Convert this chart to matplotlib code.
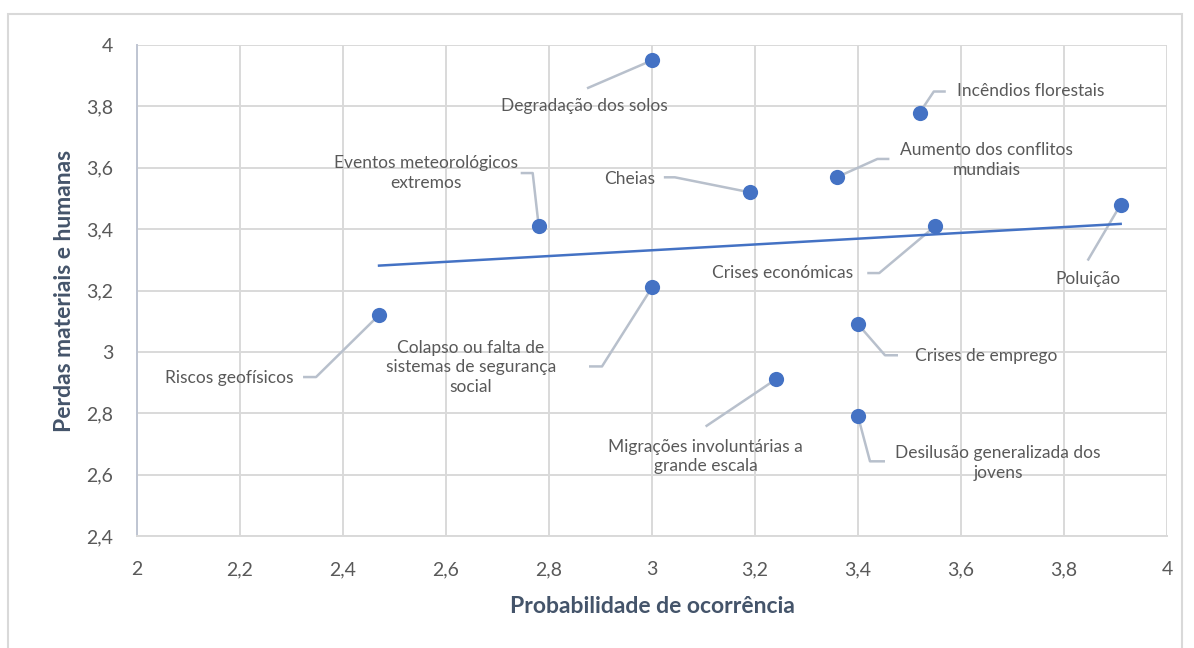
import numpy as np
import matplotlib.pyplot as plt
import matplotlib.transforms as mtransforms
from matplotlib.patches import Rectangle
from matplotlib.ticker import FuncFormatter

plt.rcParams['font.family'] = ['Lato', 'DejaVu Sans']

# riscos: probabilidade de ocorrência / perdas materiais e humanas
riscos = ['Degradação dos solos', 'Incêndios florestais', 'Aumento dos conflitos\nmundiais',
          'Cheias', 'Eventos meteorológicos\nextremos', 'Crises económicas', 'Poluição',
          'Colapso ou falta de\nsistemas de segurança\nsocial', 'Riscos geofísicos',
          'Crises de emprego', 'Migrações involuntárias a\ngrande escala',
          'Desilusão generalizada dos\njovens']
probabilidade = [3.00, 3.52, 3.36, 3.19, 2.78, 3.55, 3.91, 3.00, 2.47, 3.40, 3.24, 3.40]
perdas = [3.95, 3.78, 3.57, 3.52, 3.41, 3.41, 3.48, 3.21, 3.12, 3.09, 2.91, 2.79]

# posição de cada rótulo (pixels a partir do ponto) e vértices da linha de chamada
rotulo_pos = [(-68, -46), (111, 22), (149, 17), (-120, 13), (-113, 53), (-153, -47),
              (-33, -74), (-181, -80), (-150, -63), (128, -32), (-70, -77), (140, -47)]
chamada = [[(-65, -28)],
           [(14, 21), (26, 21)],
           [(40, 18), (52, 18)],
           [(-75, 15), (-86, 15)],
           [(-6, 53), (-18, 53)],
           [(-56, -47), (-68, -47)],
           [(-33, -56)],
           [(-50, -79), (-63, -79)],
           [(-63, -62), (-76, -62)],
           [(27, -31), (40, -31)],
           [(-70, -47)],
           [(12, -45), (27, -45)]]

azul = '#4472C4'
cinza_txt = '#595959'
cinza_grelha = '#D9D9D9'

fig = plt.figure(figsize=(11.94, 6.48), dpi=100)
fig.patches.append(Rectangle((8 / 1194, -0.01), 1174 / 1194, 1 - 14 / 648 + 0.01,
                             transform=fig.transFigure, fill=False,
                             edgecolor='#D9D9D9', lw=1.5))
ax = fig.add_axes([137 / 1194, 1 - 536 / 648, 1030 / 1194, 491 / 648])

ax.set_xlim(2, 4)
ax.set_ylim(2.4, 4)
ax.set_xticks(np.arange(2, 4.01, 0.2))
ax.set_yticks(np.arange(2.4, 4.01, 0.2))
virgula = FuncFormatter(lambda v, p: ('%.1f' % v).rstrip('0').rstrip('.').replace('.', ','))
ax.xaxis.set_major_formatter(virgula)
ax.yaxis.set_major_formatter(virgula)
ax.tick_params(length=0, labelsize=14, colors=cinza_txt)
ax.tick_params(axis='x', pad=18)
ax.tick_params(axis='y', pad=17)
ax.grid(True, color=cinza_grelha, lw=1.4)
ax.set_axisbelow(True)
for s in ['top', 'right']:
    ax.spines[s].set_visible(False)
ax.spines['left'].set_color('#BFC5D2')
ax.spines['bottom'].set_color(cinza_grelha)
ax.spines['left'].set_linewidth(1.4)
ax.spines['bottom'].set_linewidth(1.4)

# linha de tendência linear
a, b = np.polyfit(probabilidade, perdas, 1)
xt = np.array([min(probabilidade), max(probabilidade)])
ax.plot(xt, a * xt + b, color=azul, lw=1.8, zorder=3)

for i, nome in enumerate(riscos):
    x, y = probabilidade[i], perdas[i]
    tr = mtransforms.Affine2D() + mtransforms.ScaledTranslation(x, y, ax.transData)
    pts = [(0, 0)] + chamada[i]
    ax.plot([p[0] for p in pts], [p[1] for p in pts], color='#B8C0CC', lw=1.8,
            transform=tr, zorder=2, solid_capstyle='butt')
    dx, dy = rotulo_pos[i]
    ax.annotate(nome, (x, y), xytext=(dx, dy), textcoords='offset pixels',
                ha='center', va='center', fontsize=12.5, color=cinza_txt,
                linespacing=1.3, zorder=5)

ax.scatter(probabilidade, perdas, s=120, color=azul, zorder=4, linewidths=0)

ax.set_xlabel('Probabilidade de ocorrência', fontsize=16.5, fontweight='bold',
              color='#44546A', labelpad=13)
ax.set_ylabel('Perdas materiais e humanas', fontsize=16.5, fontweight='bold',
              color='#44546A', labelpad=8)

fig.savefig('out.png', dpi=100)
